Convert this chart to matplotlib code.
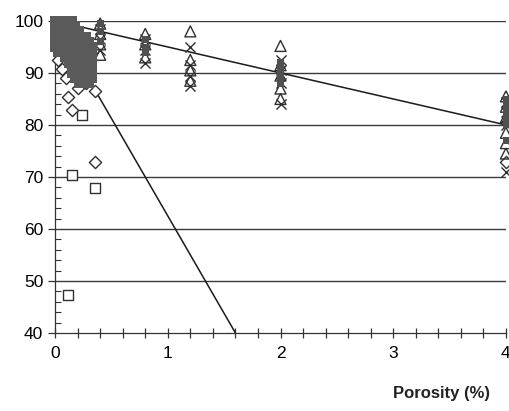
import numpy as np
import matplotlib.pyplot as plt
from matplotlib.ticker import MultipleLocator

plt.rcParams["font.family"] = ["Liberation Sans", "DejaVu Sans"]

# dense cluster near zero porosity, one list of y per x column
blob_cols = [0.0, 0.03, 0.06, 0.09, 0.12, 0.15, 0.18, 0.21, 0.24, 0.27, 0.30, 0.33]
blob_vals = [
    [100, 99, 98, 97, 96, 95],
    [100, 99, 98, 97, 96, 95, 94],
    [100, 99, 98, 97, 96, 95, 94],
    [100, 99, 98, 97, 96, 95, 94, 93],
    [100, 99, 98, 97, 96, 95, 94, 93, 92],
    [100, 99, 98, 97, 96, 95, 94, 93, 92, 91, 90],
    [99, 98, 97, 96, 95, 94, 93, 92, 91, 90, 89],
    [98, 97, 96, 95, 94, 93, 92, 91, 90, 89, 88],
    [97, 96, 95, 94, 93, 92, 91, 90, 89, 88],
    [97, 96, 95, 94, 93, 92, 91, 90, 89, 88],
    [96, 95, 94, 93, 92, 91, 90, 89, 88],
    [95, 94, 93, 92, 91, 90, 89],
]

# overlapping (dark) points in the outer clusters
dense_x = [0.4, 0.4, 0.4, 0.8, 0.8, 0.8, 2.0, 2.0, 2.0, 2.0, 2.0,
           4.0, 4.0, 4.0, 4.0, 4.0, 4.0, 4.0]
dense_y = [99.5, 98, 96, 96.5, 95, 94, 92, 91, 90, 89, 88,
           85, 84, 83, 82, 81, 80, 77]

square_x = [0.115, 0.15, 0.35, 0.24, 0.05, 0.08]
square_y = [47.2, 70.4, 67.8, 82.0, 93.0, 91.5]

diamond_x = [0.35, 0.15, 0.115, 0.06, 0.35, 0.20, 0.27, 0.03, 0.10, 4.0]
diamond_y = [72.8, 82.8, 85.4, 90.7, 86.6, 87.2, 88.0, 92.5, 89.0, 72.8]

triangle_x = [0.4, 0.4, 0.4, 0.4, 0.8, 0.8, 0.8, 1.2, 1.2, 1.2, 1.2,
              2.0, 2.0, 2.0, 2.0, 2.0, 4.0, 4.0, 4.0, 4.0, 4.0, 4.0]
triangle_y = [99.5, 97.5, 95.5, 93.5, 97.5, 95.5, 93.0, 98.0, 92.5, 90.5, 88.5,
              95.2, 91.5, 89.5, 87.0, 85.0, 85.5, 83.5, 81.5, 78.5, 76.5, 74.5]

cross_x = [0.4, 0.4, 0.4, 0.8, 0.8, 0.8, 1.2, 1.2, 1.2, 1.2,
           2.0, 2.0, 2.0, 2.0, 4.0, 4.0, 4.0, 4.0]
cross_y = [98.5, 96.5, 94.5, 96.5, 94.5, 92.0, 95.0, 91.5, 89.5, 87.5,
           92.5, 90.5, 88.0, 84.0, 84.5, 82.5, 80.0, 71.0]

# fitted trend lines (x endpoints, y endpoints)
trend_slow_x = [0.0, 4.0]
trend_slow_y = [100.0, 80.0]
trend_fast_x = [0.0, 1.6]
trend_fast_y = [100.0, 40.0]

blob_x = [x for x, col in zip(blob_cols, blob_vals) for _ in col]
blob_y = [y for col in blob_vals for y in col]

fig = plt.figure(figsize=(5.10, 4.11), dpi=100)
ax = fig.add_axes([0.108, 0.190, 0.884, 0.759])

for y in [50, 60, 70, 80, 90, 100]:
    ax.axhline(y, color="#3a3a3a", lw=1.0, zorder=1)

ax.plot(trend_slow_x, trend_slow_y, color="#1a1a1a", lw=1.1, zorder=2)
ax.plot(trend_fast_x, trend_fast_y, color="#1a1a1a", lw=1.1, zorder=2)

ms = 48
common = dict(clip_on=False)
ax.scatter(square_x, square_y, marker="s", s=ms * 1.3, facecolor="white",
           edgecolor="#303030", lw=1.0, zorder=4, **common)
ax.scatter(diamond_x, diamond_y, marker="D", s=ms * 0.8,
           facecolor="white", edgecolor="#303030", lw=1.0, zorder=4, **common)
ax.scatter(triangle_x, triangle_y, marker="^", s=ms * 1.3, facecolor="none",
           edgecolor="#303030", lw=1.0, zorder=4, **common)
ax.scatter(cross_x, cross_y, marker="x", s=ms * 1.1, color="#303030",
           lw=1.0, zorder=4, **common)
ax.scatter(blob_x, blob_y, marker="s", s=ms * 1.1, facecolor="#5a5a5a",
           edgecolor="none", zorder=5, **common)
ax.scatter(dense_x, dense_y, marker="s", s=ms * 0.5, facecolor="#505050",
           edgecolor="none", zorder=5, **common)

ax.set_xlim(0, 4)
ax.set_ylim(40, 100)
ax.xaxis.set_major_locator(MultipleLocator(1))
ax.xaxis.set_minor_locator(MultipleLocator(0.2))
ax.yaxis.set_major_locator(MultipleLocator(10))
ax.yaxis.set_minor_locator(MultipleLocator(2))
ax.tick_params(axis="x", which="both", direction="inout", length=7,
               width=0.9, color="#333333", labelsize=12.5, pad=6)
ax.tick_params(axis="y", which="major", direction="out", length=5,
               width=0.9, color="#333333", labelsize=12.5)
ax.tick_params(axis="y", which="minor", direction="in", length=4,
               width=0.8, color="#333333")

for side in ["top", "right"]:
    ax.spines[side].set_visible(False)
for side in ["left", "bottom"]:
    ax.spines[side].set_color("#333333")
    ax.spines[side].set_linewidth(0.9)
    ax.spines[side].set_linestyle((0, (2, 1)))

fig.text(0.865, 0.025, "Porosity (%)", ha="center", va="bottom",
         fontsize=12, fontweight="bold", color="#222222")

fig.savefig("out.png", dpi=100)
